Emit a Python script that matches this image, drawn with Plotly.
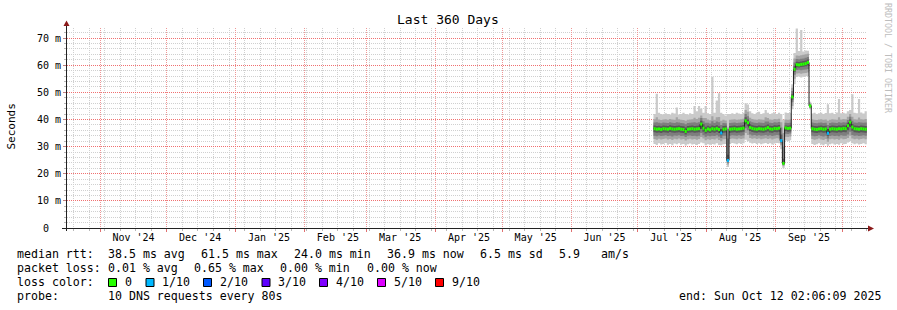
import plotly.graph_objects as go
import pandas as pd

# ---------------- data ----------------
start = pd.Timestamp("2024-10-17 02:06:09")
end = pd.Timestamp("2025-10-12 02:06:09")
dates = pd.date_range("2025-07-08", periods=97, freq="D")

med = [36.6, 36.4, 36.5, 36.3, 36.6, 36.5, 36.4, 36.7, 36.5, 36.4,
       36.5, 36.6, 36.4, 36.3, 35.6, 36.4, 36.5, 36.6, 36.4, 36.5,
       36.6, 38.3, 36.8, 36.0, 36.5, 36.2, 36.6, 36.4, 36.7, 36.3,
       35.0, 36.4, 36.5, 24.9, 36.4, 36.5, 36.6, 36.4, 36.5, 36.6,
       36.8, 39.5, 38.8, 37.0, 36.7, 36.5, 36.4, 36.6, 36.5, 36.4,
       36.6, 37.0, 36.5, 36.4, 36.7, 36.6, 36.8, 32.2, 23.8, 36.9,
       36.7, 36.8, 48.3, 58.5, 60.2, 60.1, 60.3, 60.4, 60.6, 61.0,
       45.0, 36.6, 36.4, 36.3, 36.5, 36.6, 36.4, 36.5, 34.9, 36.4,
       36.6, 36.5, 36.4, 36.6, 36.5, 36.7, 36.6, 37.7, 39.0, 37.2,
       36.6, 36.5, 36.4, 36.6, 36.5, 36.4, 36.4]

loss = [0] * 30 + [1, 0, 0, 1] + [0] * 23 + [1] + [0] * 20 + [1] + [0] * 18

hi1 = [42.0, 49.5, 42.5, 42.0, 41.8, 42.3, 42.0, 41.8, 42.5, 42.2,
       44.4, 41.8, 42.0, 42.5, 42.0, 41.8, 42.3, 42.0, 45.0, 43.0,
       45.0, 44.0, 42.5, 45.0, 42.3, 42.0, 55.7, 42.5, 47.0, 49.7,
       42.5, 42.0, 41.5, 42.0, 42.0, 42.3, 42.0, 42.5, 42.2, 42.0,
       42.5, 46.0, 45.5, 43.0, 42.3, 42.0, 42.5, 42.8, 42.0, 42.3,
       43.5, 42.5, 42.0, 42.3, 42.6, 42.0, 42.5, 42.0, 40.0, 42.6,
       42.4, 42.5, 53.0, 64.5, 73.5, 65.2, 73.0, 65.0, 65.4, 65.3,
       46.5, 42.2, 42.5, 42.0, 42.3, 42.5, 42.0, 42.4, 45.6, 42.3,
       42.5, 42.0, 42.6, 47.5, 42.3, 42.5, 42.2, 43.0, 43.5, 49.3,
       42.5, 42.3, 47.5, 42.6, 42.2, 43.0, 43.0]

hi2 = [40.1, 40.8, 40.0, 39.8, 40.0, 40.1, 39.9, 40.2, 40.0, 39.9,
       40.8, 40.1, 39.9, 39.8, 39.5, 39.9, 40.0, 40.1, 40.6, 40.2,
       40.6, 41.5, 40.5, 40.5, 40.0, 39.7, 41.2, 39.9, 40.8, 40.9,
       39.5, 39.9, 39.6, 37.0, 39.9, 40.0, 40.1, 39.9, 40.0, 40.1,
       40.3, 43.5, 42.8, 40.6, 40.2, 40.0, 39.9, 40.1, 40.0, 39.9,
       40.8, 40.5, 40.0, 39.9, 40.2, 40.1, 40.3, 39.0, 35.0, 40.0,
       39.9, 40.0, 51.7, 62.5, 63.6, 63.5, 63.7, 63.8, 64.0, 64.2,
       46.0, 40.1, 39.9, 39.8, 40.0, 40.1, 39.9, 40.0, 39.5, 39.9,
       40.1, 40.0, 39.9, 40.8, 40.0, 40.2, 40.1, 41.0, 42.0, 41.0,
       40.1, 40.0, 40.7, 40.1, 40.0, 40.2, 40.2]

hi3 = [38.9, 39.0, 38.8, 38.6, 38.9, 38.8, 38.7, 39.0, 38.8, 38.7,
       39.0, 38.9, 38.7, 38.6, 38.2, 38.7, 38.8, 38.9, 39.0, 38.8,
       39.0, 40.5, 39.3, 38.8, 38.8, 38.5, 39.3, 38.7, 39.2, 39.0,
       38.0, 38.7, 38.6, 33.0, 38.7, 38.8, 38.9, 38.7, 38.8, 38.9,
       39.1, 42.0, 41.2, 39.3, 39.0, 38.8, 38.7, 38.9, 38.8, 38.7,
       39.2, 39.2, 38.8, 38.7, 39.0, 38.9, 39.1, 37.0, 30.0, 38.8,
       38.7, 38.8, 50.5, 61.0, 62.3, 62.2, 62.4, 62.5, 62.7, 63.0,
       45.6, 38.9, 38.7, 38.6, 38.8, 38.9, 38.7, 38.8, 38.0, 38.7,
       38.9, 38.8, 38.7, 39.0, 38.8, 39.0, 38.9, 39.8, 41.0, 39.5,
       38.9, 38.8, 39.0, 38.9, 38.8, 38.9, 38.9]

hi4 = [37.8, 37.6, 37.7, 37.5, 37.8, 37.7, 37.6, 37.9, 37.7, 37.6,
       37.7, 37.8, 37.6, 37.5, 37.0, 37.6, 37.7, 37.8, 37.6, 37.7,
       37.8, 39.5, 38.2, 37.3, 37.7, 37.4, 37.8, 37.6, 37.9, 37.5,
       36.5, 37.6, 37.7, 27.0, 37.6, 37.7, 37.8, 37.6, 37.7, 37.8,
       38.0, 40.8, 40.0, 38.2, 37.9, 37.7, 37.6, 37.8, 37.7, 37.6,
       37.8, 38.1, 37.7, 37.6, 37.9, 37.8, 38.0, 34.5, 25.5, 37.8,
       37.7, 37.8, 49.3, 59.6, 61.3, 61.2, 61.4, 61.5, 61.7, 62.1,
       45.3, 37.8, 37.6, 37.5, 37.7, 37.8, 37.6, 37.7, 36.5, 37.6,
       37.8, 37.7, 37.6, 37.8, 37.7, 37.9, 37.8, 38.8, 40.0, 38.3,
       37.8, 37.7, 37.6, 37.8, 37.7, 37.6, 37.6]

lo4 = [35.3, 35.1, 35.2, 35.0, 35.3, 35.2, 35.1, 35.4, 35.2, 35.1,
       35.2, 35.3, 35.1, 35.0, 34.5, 35.1, 35.2, 35.3, 35.1, 35.2,
       35.3, 36.5, 35.5, 34.8, 35.2, 35.0, 35.3, 35.1, 35.4, 35.0,
       34.2, 35.1, 35.2, 24.5, 35.1, 35.2, 35.3, 35.1, 35.2, 35.3,
       35.5, 38.2, 37.5, 35.7, 35.4, 35.2, 35.1, 35.3, 35.2, 35.1,
       35.3, 35.6, 35.2, 35.1, 35.4, 35.3, 35.5, 31.8, 23.5, 35.7,
       35.5, 35.6, 47.3, 57.6, 59.2, 59.1, 59.3, 59.4, 59.6, 59.9,
       44.8, 35.3, 35.1, 35.0, 35.2, 35.3, 35.1, 35.2, 34.0, 35.1,
       35.3, 35.2, 35.1, 35.3, 35.2, 35.4, 35.3, 36.0, 37.2, 35.8,
       35.3, 35.2, 35.1, 35.3, 35.2, 35.1, 35.1]

lo3 = [34.0, 33.8, 34.1, 33.9, 34.0, 34.2, 33.9, 34.0, 33.7, 34.1,
       34.0, 34.2, 33.9, 34.0, 33.5, 34.0, 34.1, 33.9, 34.0, 33.8,
       34.0, 35.0, 34.2, 33.6, 34.0, 33.8, 34.0, 33.9, 34.2, 33.7,
       33.2, 34.0, 34.0, 24.0, 34.0, 34.2, 34.1, 34.0, 34.2, 34.0,
       34.2, 36.8, 36.0, 34.5, 34.1, 34.3, 34.0, 34.2, 34.0, 34.1,
       34.3, 34.0, 34.2, 33.9, 34.1, 34.3, 34.2, 31.2, 23.2, 34.7,
       34.6, 34.8, 46.3, 56.5, 58.2, 58.3, 58.1, 58.3, 58.4, 58.6,
       44.5, 34.0, 33.8, 33.9, 34.2, 33.9, 33.7, 34.0, 33.0, 33.9,
       34.1, 33.9, 34.0, 33.8, 34.2, 34.0, 34.0, 34.5, 35.5, 34.3,
       34.0, 34.1, 33.9, 34.0, 34.2, 34.0, 34.0]

lo2 = [32.8, 32.5, 32.9, 32.6, 32.8, 33.0, 32.6, 32.8, 32.4, 32.9,
       32.7, 33.0, 32.6, 32.8, 32.2, 32.7, 32.9, 32.6, 32.8, 32.5,
       32.8, 33.5, 33.0, 32.3, 32.7, 32.5, 32.8, 32.6, 33.0, 32.4,
       32.0, 32.7, 32.8, 23.4, 32.8, 33.0, 32.9, 32.7, 33.0, 32.8,
       33.0, 35.0, 34.3, 33.2, 32.9, 33.1, 32.8, 33.0, 32.7, 32.9,
       33.1, 32.8, 33.0, 32.6, 32.9, 33.1, 33.0, 30.5, 22.8, 33.6,
       33.5, 33.7, 45.0, 55.0, 56.9, 57.0, 56.8, 57.0, 57.1, 57.3,
       44.2, 32.8, 32.5, 32.7, 33.0, 32.6, 32.4, 32.8, 31.8, 32.7,
       32.9, 32.6, 32.8, 32.5, 33.0, 32.7, 32.8, 33.2, 34.0, 33.0,
       32.7, 32.9, 32.6, 32.8, 33.0, 32.7, 32.7]

lo1 = [31.0, 30.6, 31.2, 30.8, 31.0, 31.3, 30.7, 31.0, 30.5, 31.1,
       30.9, 31.2, 30.8, 31.0, 30.4, 30.9, 31.1, 30.8, 31.0, 30.6,
       31.0, 31.5, 31.2, 30.5, 30.9, 30.7, 31.0, 30.8, 31.2, 30.6,
       30.5, 30.9, 31.0, 22.5, 31.0, 31.3, 31.1, 30.9, 31.2, 31.0,
       31.2, 32.5, 32.0, 31.4, 31.1, 31.3, 31.0, 31.2, 30.9, 31.1,
       31.3, 31.0, 31.2, 30.8, 31.1, 31.3, 31.2, 29.0, 22.0, 32.2,
       32.0, 32.3, 43.8, 53.0, 55.6, 55.8, 55.5, 55.7, 55.9, 56.0,
       43.8, 31.0, 30.6, 30.9, 31.2, 30.8, 30.5, 31.0, 30.3, 30.9,
       31.1, 30.8, 31.0, 30.7, 31.2, 30.9, 31.0, 31.5, 32.0, 31.2,
       30.9, 31.1, 30.8, 31.0, 31.2, 30.9, 30.9]

y_ticks = [0, 10, 20, 30, 40, 50, 60, 70]
y_ticktext = ["0\u00a0\u00a0", "10 m", "20 m", "30 m", "40 m", "50 m", "60 m", "70 m"]
y_minor = [2, 4, 6, 8, 12, 14, 16, 18, 22, 24, 26, 28, 32, 34, 36, 38, 42, 44, 46, 48,
           52, 54, 56, 58, 62, 64, 66, 68, 72]

loss_labels = ["0", "1/10", "2/10", "3/10", "4/10", "5/10", "9/10"]
loss_levels = [0, 1, 2, 3, 4, 5, 9]
loss_colors = ["#26ff00", "#00b8ff", "#0059ff", "#5e00ff", "#7e00ff", "#dd00ff", "#ff0000"]

rtt_stats = ["38.5 ms avg", "61.5 ms max", "24.0 ms min", "36.9 ms now", "6.5 ms sd", "5.9", "am/s"]
loss_stats = ["0.01 % avg", "0.65 % max", "0.00 % min", "0.00 % now"]
probe_text = "10 DNS requests every 80s"
end_text = "end: Sun Oct 12 02:06:09 2025"
title_text = "Last 360 Days"

# ---------------- layout helpers ----------------
W, H = 897, 310
L, R, T, B = 67, 867, 28, 228
Y_MAX = 73.7
MONO = "DejaVu Sans Mono"


def px(x):
    return (x - L) / (R - L)


def py(y):
    return (B - y) / (B - T)


fig = go.Figure()

# smoke bands
band_colors = ["#CACACA", "#A4A4A4", "#7E7E7E", "#585858"]
for lo, hi, c in zip([lo1, lo2, lo3, lo4], [hi1, hi2, hi3, hi4], band_colors):
    fig.add_trace(go.Scatter(x=dates, y=lo, mode="lines", line=dict(width=0, shape="hv"),
                             hoverinfo="skip", showlegend=False))
    fig.add_trace(go.Scatter(x=dates, y=hi, mode="lines", line=dict(width=0, shape="hv"),
                             fill="tonexty", fillcolor=c, hoverinfo="skip", showlegend=False))

# thin dark median line
fig.add_trace(go.Scatter(x=dates, y=med, mode="lines", line=dict(color="#202020", width=1, shape="hv"),
                         hoverinfo="skip", showlegend=False))

# loss-coloured median segments
for lv, col in zip(loss_levels, loss_colors):
    xs, ys = [], []
    for i in range(len(dates) - 1):
        if loss[i] == lv:
            xs += [dates[i], dates[i + 1], None]
            ys += [med[i], med[i], None]
    if xs:
        fig.add_trace(go.Scatter(x=xs, y=ys, mode="lines", line=dict(color=col, width=3),
                                 hoverinfo="skip", showlegend=False))

# dummy trace for the label axis
fig.add_trace(go.Scatter(x=[start], y=[None], xaxis="x2", mode="markers", showlegend=False))

month_starts = pd.date_range("2024-11-01", "2025-10-01", freq="MS")
month_mids = [m + pd.Timedelta(days=15) for m in month_starts[:-1]]
month_labels = [m.strftime("%b '%y") for m in month_starts[:-1]]
sundays = [d for d in pd.date_range(start, end, freq="W-SUN").normalize() if d.day != 1]

GRID = "#D0D0D0"
MGRID = "#EE9696"
HMGRID = "#F07070"
DASH = "1px,1px"

shapes = []
# axes lines and arrows
AX = "#222222"
ARROW = "#8B1A1A"
shapes.append(dict(type="line", xref="paper", yref="paper", x0=px(62), x1=px(869), y0=py(228.5), y1=py(228.5),
                   line=dict(color=AX, width=1), layer="above"))
shapes.append(dict(type="line", xref="paper", yref="paper", x0=px(66.5), x1=px(66.5), y0=py(231), y1=py(24),
                   line=dict(color=AX, width=1), layer="above"))
shapes.append(dict(type="path", xref="paper", yref="paper",
                   path=f"M {px(63.5)} {py(26)} L {px(66.5)} {py(20.5)} L {px(69.5)} {py(26)} Z",
                   fillcolor=ARROW, line=dict(color=ARROW, width=0), layer="above"))
shapes.append(dict(type="path", xref="paper", yref="paper",
                   path=f"M {px(868)} {py(225.5)} L {px(874)} {py(228.5)} L {px(868)} {py(231.5)} Z",
                   fillcolor=ARROW, line=dict(color=ARROW, width=0), layer="above"))

annotations = []


def txt(x, y, s, size=11.6, color="black", anchor="left", angle=0):
    annotations.append(dict(xref="paper", yref="paper", x=px(x), y=py(y), text=s, showarrow=False,
                            xanchor=anchor, yanchor="middle", borderpad=0, textangle=angle,
                            font=dict(family=MONO, size=size, color=color)))


# title, axis title, watermark
txt(448, 19.5, title_text, size=13, anchor="center")
txt(10.5, 127, "Seconds", size=11, anchor="center", angle=-90)
txt(888, 58, "RRDTOOL / TOBI OETIKER", size=8.3, color="#BDBDBD", anchor="center", angle=90)

# legend rows
row_y = [254.3, 268.3, 282.3, 296.0]
txt(16, row_y[0], "median rtt:")
for x, s in zip([107.3, 200, 293.3, 386, 479.3, 558.3, 600], rtt_stats):
    txt(x, row_y[0], s)
txt(16, row_y[1], "packet loss:")
for x, s in zip([107.3, 193.3, 279.3, 365.7], loss_stats):
    txt(x, row_y[1], s)
txt(16, row_y[2], "loss color:")
box_x = [108.5, 146, 203.5, 262, 319.5, 377.5, 435.5]
for bx, lab, col in zip(box_x, loss_labels, loss_colors):
    shapes.append(dict(type="rect", xref="paper", yref="paper", x0=px(bx), x1=px(bx + 8),
                       y0=py(278.5), y1=py(286.5), fillcolor=col, line=dict(color="black", width=1),
                       layer="above"))
    txt(bx + 15, row_y[2], lab)
txt(16, row_y[3], "probe:")
txt(107.3, row_y[3], probe_text)
txt(678.3, row_y[3], end_text)

fig.update_layout(
    width=W, height=H,
    margin=dict(l=L, r=W - R, t=T, b=H - B, pad=0),
    paper_bgcolor="white", plot_bgcolor="white",
    showlegend=False,
    font=dict(family=MONO, size=10, color="black"),
    xaxis=dict(range=[start, end], showgrid=True, gridcolor=MGRID, griddash=DASH, gridwidth=1,
               zeroline=False, showline=False,
               tickmode="array", tickvals=month_starts, showticklabels=False,
               ticks="outside", ticklen=3, tickcolor="#E07070",
               minor=dict(tickmode="array", tickvals=sundays, ticks="outside", ticklen=2,
                          tickcolor="#B8B8B8", showgrid=True, gridcolor=GRID, griddash=DASH,
                          gridwidth=1)),
    xaxis2=dict(overlaying="x", range=[start, end], side="bottom", showgrid=False, zeroline=False,
                showline=False, tickmode="array", tickvals=month_mids, ticktext=month_labels,
                ticks="", ticklabelstandoff=2, tickfont=dict(family=MONO, size=10, color="black")),
    yaxis=dict(range=[0, Y_MAX], showgrid=True, gridcolor=HMGRID, griddash=DASH, gridwidth=1,
               zeroline=False, showline=False,
               tickmode="array", tickvals=y_ticks, ticktext=y_ticktext,
               ticks="outside", ticklen=3, tickcolor="#C08080",
               tickfont=dict(family=MONO, size=10, color="black"),
               minor=dict(tickmode="array", tickvals=y_minor, ticks="outside", ticklen=2,
                          tickcolor="#B8B8B8", showgrid=True, gridcolor=GRID, griddash=DASH,
                          gridwidth=1)),
    shapes=shapes,
    annotations=annotations,
)

fig.write_html("out.html")
